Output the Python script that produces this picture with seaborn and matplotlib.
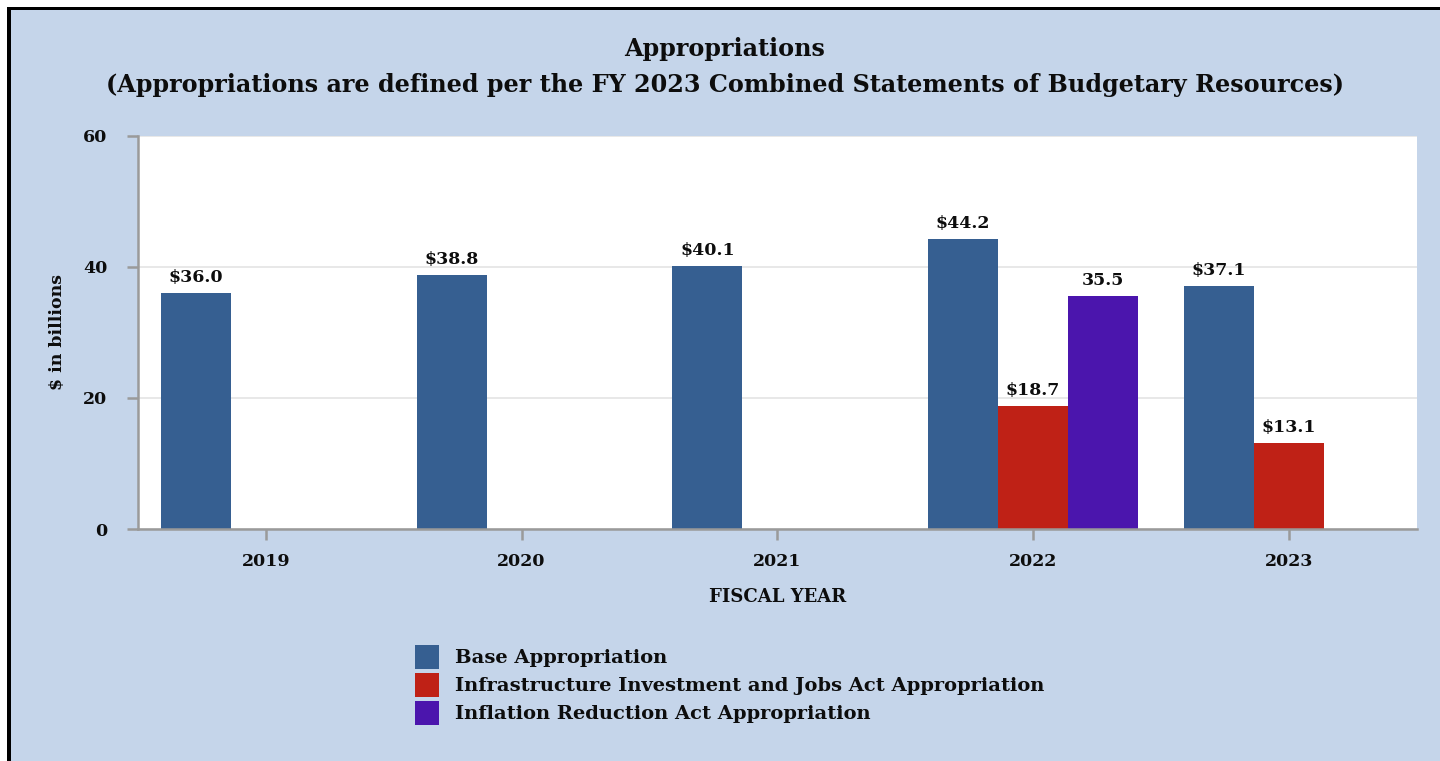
import matplotlib
matplotlib.use("Agg")
import matplotlib.pyplot as plt
from matplotlib.patches import Rectangle
import seaborn as sns
import pandas as pd

# Appropriations by fiscal year, $ in billions
years = ["2019", "2020", "2021", "2022", "2023"]
base_appropriation = [36.0, 38.8, 40.1, 44.2, 37.1]
iija_years = ["2022", "2023"]
iija_appropriation = [18.7, 13.1]
ira_years = ["2022"]
ira_appropriation = [35.5]

series_names = [
    "Base Appropriation",
    "Infrastructure Investment and Jobs Act Appropriation",
    "Inflation Reduction Act Appropriation",
]
series_colors = ["#365f91", "#bf2116", "#4b15ad"]
label_prefix = ["$", "$", ""]
y_ticks = [0, 20, 40, 60]

title_line1 = "Appropriations"
title_line2 = ("(Appropriations are defined per the FY 2023 Combined "
               "Statements of Budgetary Resources)")

rows = (
    [(y, series_names[0], v) for y, v in zip(years, base_appropriation)]
    + [(y, series_names[1], v) for y, v in zip(iija_years, iija_appropriation)]
    + [(y, series_names[2], v) for y, v in zip(ira_years, ira_appropriation)]
)
df = pd.DataFrame(rows, columns=["year", "series", "value"])

BG = "#c5d5ea"
AXIS_GRAY = "#9a9a9a"
INK = "#0d0d0d"

sns.set_theme(style="white")
plt.rcParams["font.family"] = ["DejaVu Serif"]
plt.rcParams["font.weight"] = "bold"
plt.rcParams["axes.labelweight"] = "bold"

W, H = 1440, 761
fig = plt.figure(figsize=(W / 100, H / 100), dpi=100, facecolor=BG)
ax = fig.add_axes([138 / W, 1 - 529 / H, (1416.5 - 138) / W, (529 - 135.7) / H])
ax.set_facecolor("white")

sns.barplot(
    data=df, x="year", y="value", hue="series",
    order=years, hue_order=series_names, palette=series_colors,
    width=0.82, errorbar=None, linewidth=0, saturation=1, ax=ax,
)

for container, prefix in zip(ax.containers, label_prefix):
    ax.bar_label(
        container, fmt=lambda v, p=prefix: f"{p}{v:.1f}",
        padding=5, fontsize=12.5, fontweight="bold", color=INK,
    )

ax.set_xlim(-0.5, len(years) - 0.5)
ax.set_ylim(y_ticks[0], y_ticks[-1])
ax.set_yticks(y_ticks)
ax.yaxis.grid(True, color="#e4e4e4", linewidth=1.2)
ax.set_axisbelow(True)

for side in ("top", "right"):
    ax.spines[side].set_visible(False)
for side in ("left", "bottom"):
    ax.spines[side].set_color(AXIS_GRAY)
    ax.spines[side].set_linewidth(1.8)

ax.tick_params(axis="y", which="major", left=True, length=8, width=1.8,
               color=AXIS_GRAY, pad=14, labelsize=12.5, labelcolor=INK)
ax.tick_params(axis="x", which="major", bottom=True, length=8, width=1.8,
               color=AXIS_GRAY, pad=9, labelsize=12.5, labelcolor=INK)
for lbl in ax.get_xticklabels() + ax.get_yticklabels():
    lbl.set_fontweight("bold")

ax.set_xlabel("FISCAL YEAR", fontsize=13, fontweight="bold", labelpad=13,
              color=INK)
ax.set_ylabel("$ in billions", fontsize=12.5, fontweight="bold", labelpad=12,
              color=INK)

fig.text(725 / W, 1 - 49 / H, title_line1, ha="center", va="center",
         fontsize=17.2, fontweight="bold", color=INK)
fig.text(725 / W, 1 - 85 / H, title_line2, ha="center", va="center",
         fontsize=17.2, fontweight="bold", color=INK)

sns.move_legend(
    ax, loc="upper left", bbox_to_anchor=(415 / W, 1 - 645 / H),
    bbox_transform=fig.transFigure, frameon=False, title=None,
    fontsize=14, handlelength=1.235, handleheight=1.52, handletextpad=0.82,
    labelspacing=0.2, borderpad=0, borderaxespad=0,
)
for t in ax.get_legend().get_texts():
    t.set_fontweight("bold")
    t.set_color(INK)

# Page frame: thin white margin with black rules on the top and left
fig.add_artist(Rectangle((0, 1 - 6.5 / H), 1, 6.5 / H, transform=fig.transFigure,
                         facecolor="white", edgecolor="none"))
fig.add_artist(Rectangle((0, 0), 7 / W, 1, transform=fig.transFigure,
                         facecolor="white", edgecolor="none"))
fig.add_artist(Rectangle((7 / W, 1 - 10 / H), 1, 3.5 / H, transform=fig.transFigure,
                         facecolor="black", edgecolor="none"))
fig.add_artist(Rectangle((7 / W, 0), 3.5 / W, 1 - 6.5 / H, transform=fig.transFigure,
                         facecolor="black", edgecolor="none"))

fig.savefig("out.png", dpi=100, facecolor=BG)
